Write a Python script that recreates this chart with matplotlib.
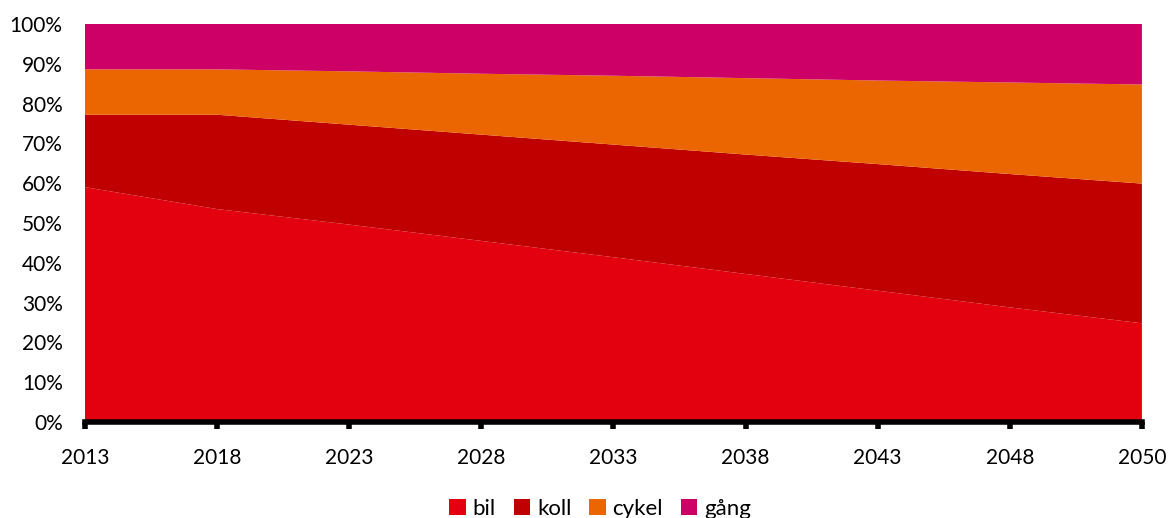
import numpy as np
import matplotlib.pyplot as plt
from matplotlib.patches import Patch

plt.rcParams['font.family'] = ['Lato', 'DejaVu Sans']

years = ['2013', '2018', '2023', '2028', '2033', '2038', '2043', '2048', '2050']
bil = [59.0, 53.5, 49.6, 45.5, 41.4, 37.2, 33.0, 28.8, 24.8]
koll = [18.2, 23.7, 25.1, 26.7, 28.3, 30.0, 31.8, 33.5, 35.1]
cykel = [11.4, 11.4, 13.4, 15.3, 17.3, 19.2, 21.0, 23.0, 24.9]
gang = [11.4, 11.4, 11.9, 12.5, 13.0, 13.6, 14.2, 14.7, 15.2]

labels = ['bil', 'koll', 'cykel', 'gång']
colors = ['#E3000F', '#C00000', '#EB6600', '#CC0066']

fig = plt.figure(figsize=(11.7, 5.18), dpi=100)
ax = fig.add_axes([0.0726, 0.1853, 0.9034, 0.7684])

x = np.arange(len(years))
ax.stackplot(x, bil, koll, cykel, gang, colors=colors, linewidth=0)

ax.set_xlim(0, len(years) - 1)
ax.set_ylim(0, 100)
ax.set_xticks(x)
ax.set_xticklabels(years)
ax.set_yticks(np.arange(0, 101, 10))
ax.set_yticklabels([f'{v}%' for v in range(0, 101, 10)])

for side in ['top', 'right', 'left']:
    ax.spines[side].set_visible(False)
ax.spines['bottom'].set_linewidth(4)
ax.spines['bottom'].set_zorder(5)

ax.tick_params(axis='x', length=5, width=4, direction='out', labelsize=15, pad=14, color='black')
ax.tick_params(axis='y', length=0, labelsize=15, pad=16)

handles = [Patch(facecolor=c, edgecolor='none') for c in colors]
fig.legend(handles, labels, loc='lower center', bbox_to_anchor=(0.513, -0.04), ncol=4,
           frameon=False, fontsize=16, handlelength=0.75, handleheight=0.75,
           handletextpad=0.3, columnspacing=0.8)

fig.savefig('out.png', dpi=100)
